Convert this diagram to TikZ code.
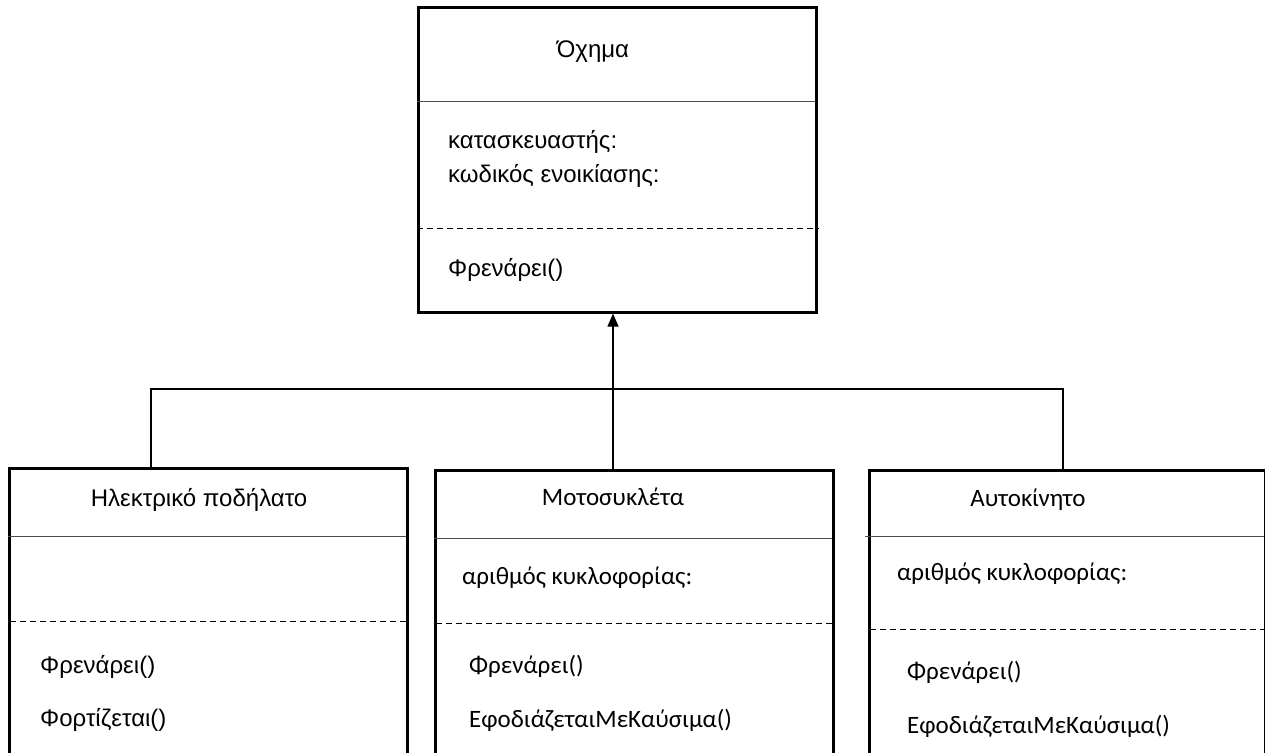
\documentclass[tikz,border=0pt]{standalone}
\usepackage{fontspec}
\newfontfamily\arialgr{Liberation Sans}
\newfontfamily\calgr{Carlito}
\usetikzlibrary{arrows.meta}
\begin{document}
\begin{tikzpicture}[x=1pt,y=-1pt,
	classbox/.style={draw, line width=2.6pt, minimum width=398pt, minimum height=300pt, anchor=north west, inner sep=0pt},
	sepline/.style={line width=1pt, black!70},
	dashline/.style={line width=1pt, dash pattern=on 6pt off 4pt},
	title/.style={font=\arialgr\fontsize{24}{28}\selectfont},
	entry/.style={anchor=west, inner sep=0pt, font=\arialgr\fontsize{24}{28}\selectfont},
	ctitle/.style={font=\calgr\fontsize{25}{30}\selectfont},
	centry/.style={anchor=west, inner sep=0pt, font=\calgr\fontsize{25}{30}\selectfont}]
	\useasboundingbox (0,0) rectangle (1265,752);
	\clip (0,0) rectangle (1265,752);
	% super class
	\node[classbox, minimum height=305pt] (vehicle) at (417,6) {};
	\draw[sepline] (417,101) -- (815,101);
	\draw[dashline] (417,228) -- (819,228);
	\node[title] (vehname) at (593,52) {Όχημα};
	\node[entry] (vehmaker) at (448,142) {κατασκευαστής:};
	\node[entry] (vehcode) at (448,176) {κωδικός ενοικίασης:};
	\node[entry] (vehbrake) at (448,270) {Φρενάρει()};
	% sub classes
	\node[classbox] (bike) at (8,467) {};
	\draw[sepline] (8,536) -- (406,536);
	\draw[dashline] (10,621) -- (408,621);
	\node[title] (bikename) at (199,500) {Ηλεκτρικό ποδήλατο};
	\node[entry] (bikebrake) at (40,667) {Φρενάρει()};
	\node[entry] (bikecharge) at (40,720) {Φορτίζεται()};
	\node[classbox] (moto) at (434,469) {};
	\draw[sepline] (434,538) -- (832,538);
	\draw[dashline] (436,623) -- (832,623);
	\node[ctitle] (motoname) at (613,497) {Μοτοσυκλέτα};
	\node[centry] (motoplate) at (462,578) {αριθμός κυκλοφορίας:};
	\node[centry] (motobrake) at (469,666) {Φρενάρει()};
	\node[centry] (motofuel) at (469,720) {ΕφοδιάζεταιΜεΚαύσιμα()};
	\node[classbox, minimum width=396pt] (car) at (868,469) {};
	\draw[sepline] (865,536) -- (1264,536);
	\draw[dashline] (870,629) -- (1264,629);
	\node[ctitle] (carname) at (1028,500) {Αυτοκίνητο};
	\node[centry] (carplate) at (897,574) {αριθμός κυκλοφορίας:};
	\node[centry] (carbrake) at (907,672) {Φρενάρει()};
	\node[centry] (carfuel) at (907,726) {ΕφοδιάζεταιΜεΚαύσιμα()};
	% inheritance
	\coordinate (join) at (613,389);
	\draw[line width=1.2pt] ([xshift=143pt]bike.north west) |- (join) -| ([xshift=195pt]car.north west);
	\draw[line width=1.2pt, -{Triangle[width=11pt,length=13pt]}] (join |- moto.north) -- (join |- vehicle.south);
\end{tikzpicture}
\end{document}
